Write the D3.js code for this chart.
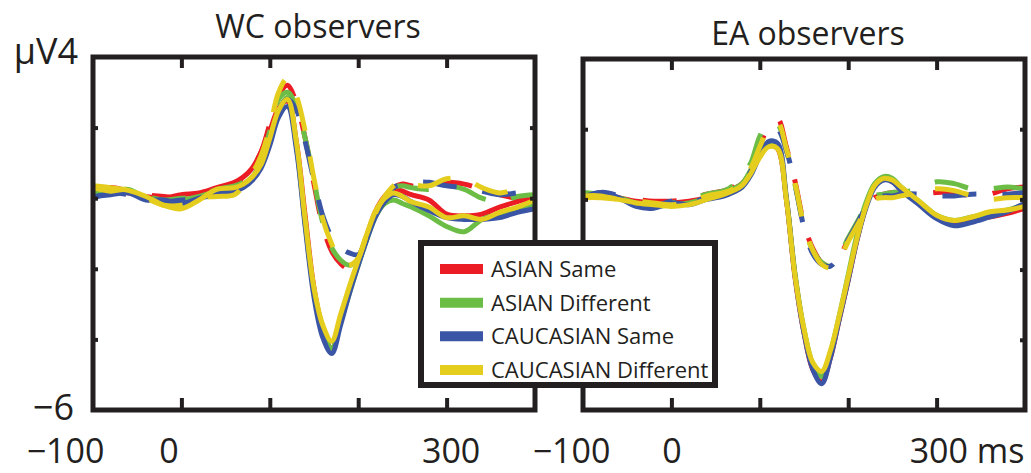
<!DOCTYPE html>
<html><head><meta charset="utf-8">
<script src="https://cdn.jsdelivr.net/npm/d3@7"></script>
<style>
body{margin:0;background:#fff}
svg{display:block}
text{font-family:"Open Sans",sans-serif;fill:#231f20}
</style>
</head><body>
<svg id="c" width="1031" height="473"></svg>
<script>
// time points (ms)
const times = [-100,-80,-60,-40,-20,0,20,40,60,70,80,90,100,110,120,130,140,150,160,170,180,190,200,210,220,230,240,250,260,280,300,320,340,360,380,400];
const seriesNames = ["ASIAN Same","ASIAN Different","CAUCASIAN Same","CAUCASIAN Different"];
const seriesColors = ["#ec1c24","#6cbd45","#3a55a5","#e5cd1e"];
const panelTitles = ["WC observers","EA observers"];
const xTickValues = [0,100,200,300];
const yTickValues = [2,0,-2,-4];
const xLabelValues = [-100,0,300];
const xLabelsLeft = ["\u2212100","0","300"];
const xLabelsRight = ["\u2212100","0","300 ms"];
const yLabelValues = [4,-6];
const yLabels = ["\u03bcV4","\u22126"];

// WC observers, solid traces (µV)
const wcAsianSameSolid   = [0.15,0.25,0.15,0.05,0.0,0.1,0.15,0.3,0.45,0.6,0.85,1.3,1.9,2.55,2.75,1.6,-0.5,-2.55,-3.7,-4.25,-3.45,-2.6,-1.8,-1.05,-0.35,0.05,0.25,0.2,0.1,-0.05,-0.45,-0.5,-0.45,-0.25,-0.1,0.05];
const wcAsianDiffSolid   = [0.1,0.2,0.25,0.0,-0.1,-0.05,0.05,0.2,0.3,0.4,0.6,1.0,1.7,2.45,2.85,1.5,-0.7,-2.65,-3.75,-4.25,-3.5,-2.7,-1.9,-1.15,-0.5,-0.15,-0.05,-0.15,-0.25,-0.5,-0.8,-0.95,-0.6,-0.45,-0.35,-0.2];
const wcCaucSameSolid    = [0.05,0.1,0.15,-0.05,-0.05,-0.15,0.0,0.1,0.2,0.3,0.5,0.85,1.5,2.3,2.6,1.4,-0.8,-2.8,-3.95,-4.4,-3.6,-2.7,-1.9,-1.15,-0.5,-0.1,0.1,0.05,-0.1,-0.35,-0.55,-0.6,-0.6,-0.55,-0.4,-0.3];
const wcCaucDiffSolid    = [0.35,0.3,0.22,0.05,-0.2,-0.3,-0.05,0.25,0.3,0.4,0.6,0.95,1.7,2.5,2.8,1.6,-0.6,-2.55,-3.6,-4.05,-3.3,-2.5,-1.75,-1.0,-0.35,0.0,0.15,0.05,-0.1,-0.25,-0.55,-0.5,-0.6,-0.4,-0.25,-0.05];
// WC observers, dashed traces
const wcAsianSameDashed  = [0.2,0.3,0.2,0.1,0.05,0.0,0.1,0.2,0.4,0.55,0.85,1.3,2.1,2.9,3.2,2.7,1.7,0.4,-0.8,-1.5,-1.85,-2.0,-1.7,-1.05,-0.4,0.05,0.3,0.4,0.35,0.3,0.45,0.4,0.25,0.1,0.0,0.0];
const wcAsianDiffDashed  = [0.15,0.2,0.2,0.05,-0.05,0.0,0.05,0.25,0.35,0.45,0.7,1.1,1.9,2.8,3.0,2.6,1.7,0.5,-0.7,-1.4,-1.75,-1.9,-1.75,-1.1,-0.45,0.0,0.3,0.35,0.3,0.25,0.35,0.25,0.0,-0.1,0.05,0.1];
const wcCaucSameDashed   = [0.0,0.15,0.1,0.0,-0.1,-0.05,0.0,0.15,0.25,0.35,0.6,1.0,1.7,2.5,2.8,2.5,1.6,0.5,-0.5,-1.1,-1.4,-1.55,-1.6,-1.05,-0.45,0.0,0.3,0.4,0.45,0.45,0.35,0.3,0.2,0.1,0.15,0.2];
const wcCaucDiffDashed   = [0.3,0.2,0.25,0.0,-0.2,-0.2,0.0,0.05,0.1,0.35,0.7,1.2,2.0,3.0,3.4,2.9,1.9,0.55,-0.6,-1.3,-1.8,-1.9,-1.7,-1.0,-0.4,0.05,0.35,0.5,0.4,0.35,0.55,0.55,0.3,0.15,0.25,0.2];

// EA observers, solid traces
const eaAsianSameSolid   = [0.1,0.15,0.05,-0.05,-0.1,-0.1,-0.05,0.05,0.2,0.3,0.45,0.8,1.25,1.55,1.45,0.0,-2.25,-3.8,-4.85,-5.2,-4.5,-3.4,-2.3,-1.15,-0.2,0.4,0.6,0.5,0.3,-0.1,-0.5,-0.65,-0.55,-0.5,-0.4,-0.25];
const eaAsianDiffSolid   = [0.15,0.1,0.05,-0.1,-0.2,-0.15,-0.1,0.05,0.2,0.3,0.45,0.85,1.35,1.6,1.5,0.05,-2.15,-3.7,-4.7,-5.05,-4.35,-3.3,-2.15,-1.0,-0.1,0.45,0.65,0.6,0.35,-0.05,-0.45,-0.6,-0.5,-0.4,-0.3,-0.15];
const eaCaucSameSolid    = [0.05,0.2,0.05,-0.2,-0.25,-0.1,-0.15,0.0,0.1,0.2,0.35,0.7,1.25,1.65,1.6,0.05,-2.2,-3.8,-4.85,-5.25,-4.5,-3.4,-2.3,-1.15,-0.25,0.35,0.55,0.5,0.25,-0.15,-0.55,-0.75,-0.65,-0.5,-0.35,-0.1];
const eaCaucDiffSolid    = [0.05,0.05,0.0,-0.1,-0.15,-0.2,-0.15,0.0,0.15,0.25,0.4,0.75,1.2,1.5,1.45,0.0,-2.2,-3.7,-4.65,-4.9,-4.3,-3.3,-2.2,-1.1,-0.2,0.4,0.6,0.55,0.35,-0.05,-0.45,-0.6,-0.5,-0.35,-0.3,-0.2];
// EA observers, dashed traces
const eaAsianSameDashed  = [0.15,0.1,0.05,0.0,-0.05,-0.05,0.0,0.15,0.25,0.35,0.55,0.9,1.5,2.1,2.3,1.5,0.5,-0.7,-1.4,-1.8,-1.9,-1.65,-1.15,-0.7,-0.25,0.05,0.15,0.2,0.2,0.15,0.2,0.2,0.1,0.15,0.3,0.35];
const eaAsianDiffDashed  = [0.2,0.15,0.05,-0.05,-0.15,-0.1,0.0,0.15,0.25,0.4,0.65,1.05,1.8,2.2,2.15,1.4,0.4,-0.75,-1.45,-1.8,-1.9,-1.6,-1.1,-0.65,-0.2,0.1,0.15,0.2,0.2,0.3,0.5,0.45,0.3,0.3,0.35,0.3];
const eaCaucSameDashed   = [0.0,0.2,0.1,-0.15,-0.2,-0.05,-0.1,0.05,0.15,0.25,0.45,0.8,1.4,1.95,2.0,1.4,0.4,-0.8,-1.55,-1.85,-1.9,-1.6,-1.15,-0.7,-0.25,0.0,0.1,0.1,0.15,0.15,0.1,0.1,0.15,0.15,0.15,0.2];
const eaCaucDiffDashed   = [0.1,0.1,0.0,-0.05,-0.1,-0.15,-0.1,0.1,0.2,0.3,0.5,0.9,1.5,2.05,2.2,1.45,0.45,-0.75,-1.45,-1.85,-1.95,-1.7,-1.2,-0.75,-0.3,0.0,0.05,0.05,0.1,0.2,0.3,0.25,0.1,0.0,0.05,0.05];

const ink = "#231f20";
const svg = d3.select("#c");

const panels = [
  {title: panelTitles[0], solid:[wcAsianSameSolid,wcAsianDiffSolid,wcCaucSameSolid,wcCaucDiffSolid],
   dashed:[wcAsianSameDashed,wcAsianDiffDashed,wcCaucSameDashed,wcCaucDiffDashed],
   l:93, r:535, t:57, b:410, titleY:38, labels:xLabelsLeft, labelDx:[-28,-13,4], yLab:true},
  {title: panelTitles[1], solid:[eaAsianSameSolid,eaAsianDiffSolid,eaCaucSameSolid,eaCaucDiffSolid],
   dashed:[eaAsianSameDashed,eaAsianDiffDashed,eaCaucSameDashed,eaCaucDiffDashed],
   l:583, r:1025, t:59, b:410, titleY:45, labels:xLabelsRight, labelDx:[-12,0,30], yLab:false}
];

panels.forEach(p => {
  const x = d3.scaleLinear().domain([-100,400]).range([p.l,p.r]);
  const y = d3.scaleLinear().domain([-6,4]).range([p.b,p.t]);
  const g = svg.append("g");
  const line = d3.line().x((d,i)=>x(times[i])).y(d=>y(d)).curve(d3.curveCatmullRom.alpha(0.5));

  // traces
  seriesColors.forEach((c,k) => {
    g.append("path").attr("d", line(p.solid[k])).attr("fill","none")
      .attr("stroke",c).attr("stroke-width",5).attr("stroke-linejoin","round").attr("stroke-linecap","butt");
    g.append("path").attr("d", line(p.dashed[k])).attr("fill","none")
      .attr("stroke",c).attr("stroke-width",5).attr("stroke-dasharray","34,26")
      .attr("stroke-linejoin","round").attr("stroke-linecap","butt");
  });

  // frame
  g.append("rect").attr("x",p.l).attr("y",p.t).attr("width",p.r-p.l).attr("height",p.b-p.t)
    .attr("fill","none").attr("stroke",ink).attr("stroke-width",5);

  // ticks via axes
  const tickStyle = sel => { sel.select(".domain").remove(); sel.selectAll("line").attr("stroke",ink).attr("stroke-width",4); };
  g.append("g").attr("transform",`translate(0,${p.t})`)
    .call(d3.axisTop(x).tickValues(xTickValues).tickSize(-11).tickFormat("")).call(tickStyle);
  g.append("g").attr("transform",`translate(0,${p.b})`)
    .call(d3.axisBottom(x).tickValues(xTickValues).tickSize(-12).tickFormat("")).call(tickStyle);
  g.append("g").attr("transform",`translate(${p.l},0)`)
    .call(d3.axisLeft(y).tickValues(yTickValues).tickSize(-5).tickFormat("")).call(tickStyle);
  g.append("g").attr("transform",`translate(${p.r},0)`)
    .call(d3.axisRight(y).tickValues(yTickValues).tickSize(-5).tickFormat("")).call(tickStyle);

  // x labels
  const xl = g.append("g").attr("transform",`translate(0,${p.b})`)
    .call(d3.axisBottom(x).tickValues(xLabelValues).tickSize(0).tickPadding(29)
      .tickFormat((d,i)=>p.labels[i]));
  xl.select(".domain").remove();
  xl.selectAll("text").attr("font-size",34).attr("font-family","Open Sans").attr("fill",ink)
    .attr("dx",(d,i)=>p.labelDx[i]);

  // y labels
  if (p.yLab) {
    const yl = g.append("g").attr("transform",`translate(${p.l},0)`)
      .call(d3.axisLeft(y).tickValues(yLabelValues).tickSize(0).tickPadding(15)
        .tickFormat((d,i)=>yLabels[i]));
    yl.select(".domain").remove();
    yl.selectAll("text").attr("font-size",36).attr("font-family","Open Sans").attr("fill",ink)
      .attr("dy",(d,i)=>[6,9][i]).attr("dx",(d,i)=>[0,-4][i]);
  }

  // title
  g.append("text").attr("x",(p.l+p.r)/2+4).attr("y",p.titleY).attr("text-anchor","middle")
    .attr("font-size",32).text(p.title);
});

// legend
const lg = svg.append("g");
lg.append("rect").attr("x",421).attr("y",243).attr("width",294).attr("height",142)
  .attr("fill","#fff").attr("stroke",ink).attr("stroke-width",6);
const ly = d3.scalePoint().domain(seriesNames).range([269,370]);
seriesNames.forEach((n,k) => {
  lg.append("line").attr("x1",440).attr("x2",483).attr("y1",ly(n)).attr("y2",ly(n))
    .attr("stroke",seriesColors[k]).attr("stroke-width",10);
  lg.append("text").attr("x",491).attr("y",ly(n)+8).attr("font-size",22).text(n);
});
</script>
</body></html>
